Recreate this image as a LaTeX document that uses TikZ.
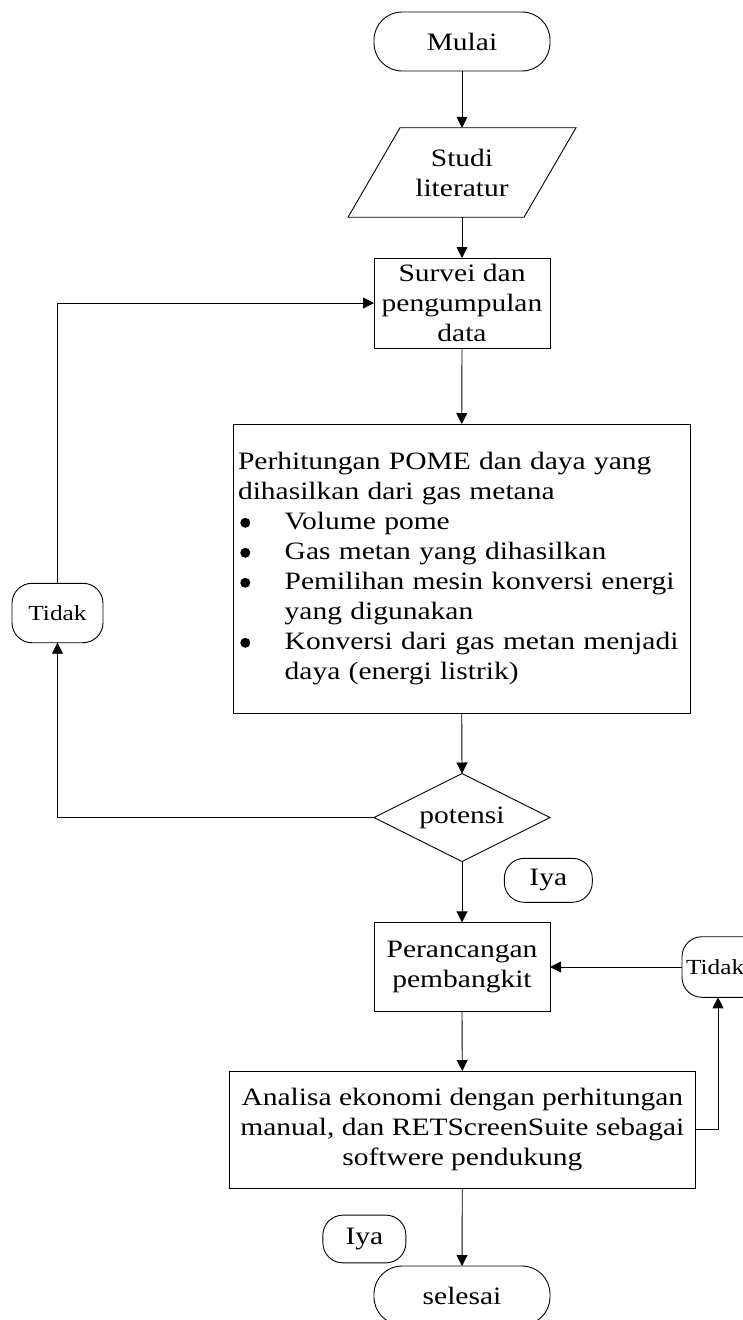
\documentclass[tikz,border=0pt]{standalone}
\usepackage{fontspec}
\setmainfont[FakeStretch=1.18]{Liberation Serif}
\usetikzlibrary{shapes.geometric,arrows.meta}
\newcommand\bitem{\makebox[46.7pt][l]{\hspace{2.3pt}\tikz[baseline=0pt]\fill (5pt,6.7pt) circle (5pt);}}
\begin{document}
\begin{tikzpicture}[x=1pt,y=-1pt,
  every node/.style={font=\fontsize{25}{30}\selectfont, outer sep=0pt, inner sep=0pt},
  box/.style={draw, line width=0.9pt, minimum width=176pt},
  term/.style={draw, line width=0.9pt, rounded corners=28pt, minimum width=176pt, minimum height=59pt},
  lbl/.style={draw, line width=0.9pt, rounded corners=20pt},
  tfont/.style={font=\fontsize{21.5}{25}\selectfont},
  arr/.style={draw, line width=0.9pt, -{Triangle[length=11pt,width=11pt]}},
]
\useasboundingbox (0,0) rectangle (742,1320);

\node[term] (mulai) at (462,41.5) {Mulai};
\node[minimum width=176pt, minimum height=89.5pt, align=center] (lit) at (462,172.5) {Studi\\literatur};
\draw[line width=0.9pt] ([xshift=26pt]lit.north west) -- ([xshift=26pt]lit.north east) -- ([xshift=-26pt]lit.south east) -- ([xshift=-26pt]lit.south west) -- cycle;
\node[box, minimum height=90pt, align=center] (survei) at (462,303) {Survei dan\\pengumpulan\\data};
\node[box, minimum width=457.5pt, minimum height=289pt, text width=447.5pt, inner xsep=5pt, align=left] (big) at (461.75,568.5)
  {Perhitungan POME dan daya yang\\
   dihasilkan dari gas metana\\
   \bitem Volume pome\\
   \bitem Gas metan yang dihasilkan\\
   \bitem Pemilihan mesin konversi energi\\
   \hspace*{46.7pt}yang digunakan\\
   \bitem Konversi dari gas metan menjadi\\
   \hspace*{46.7pt}daya (energi listrik)};
\node[draw, line width=0.9pt, diamond, aspect=2, minimum width=176pt, minimum height=88pt] (pot) at (462,817.5) {potensi};
\node[lbl, minimum width=88pt, minimum height=44pt] (iya1) at (548.3,880.3) {Iya};
\node[lbl, tfont, minimum width=91pt, minimum height=59.4pt] (tidakL) at (57.5,613) {Tidak};
\node[box, minimum height=89.4pt, align=center] (peran) at (462,967) {Perancangan\\pembangkit};
\node[lbl, tfont, anchor=west, text width=83pt, inner xsep=4pt, align=left, minimum height=60.6pt] (tidakR) at (682,967) {Tidak};
\node[box, minimum width=465.7pt, minimum height=117pt, align=center] (anal) at (462.3,1129.5)
  {Analisa ekonomi dengan perhitungan\\manual, dan RETScreenSuite sebagai\\softwere pendukung};
\node[lbl, minimum width=83pt, minimum height=47.7pt] (iya2) at (364.4,1239) {Iya};
\node[term] (sel) at (462,1295.5) {selesai};

\draw[arr] (mulai.south) -- (lit.north);
\draw[arr] (lit.south) -- (survei.north);
\draw[arr] (survei.south) -- (big.north);
\draw[arr] (big.south) -- (pot.north);
\draw[arr] (pot.south) -- (peran.north);
\draw[arr] (peran.south) -- (anal.north);
\draw[arr] (anal.south) -- (sel.north);
\draw[arr] (pot.west) -| (tidakL.south);
\draw[arr] (tidakL.north) |- (survei.west);
\draw[arr] (anal.east) -| ([xshift=-9.5pt]tidakR.south);
\draw[arr] (tidakR.west) -- (peran.east);
\end{tikzpicture}
\end{document}
